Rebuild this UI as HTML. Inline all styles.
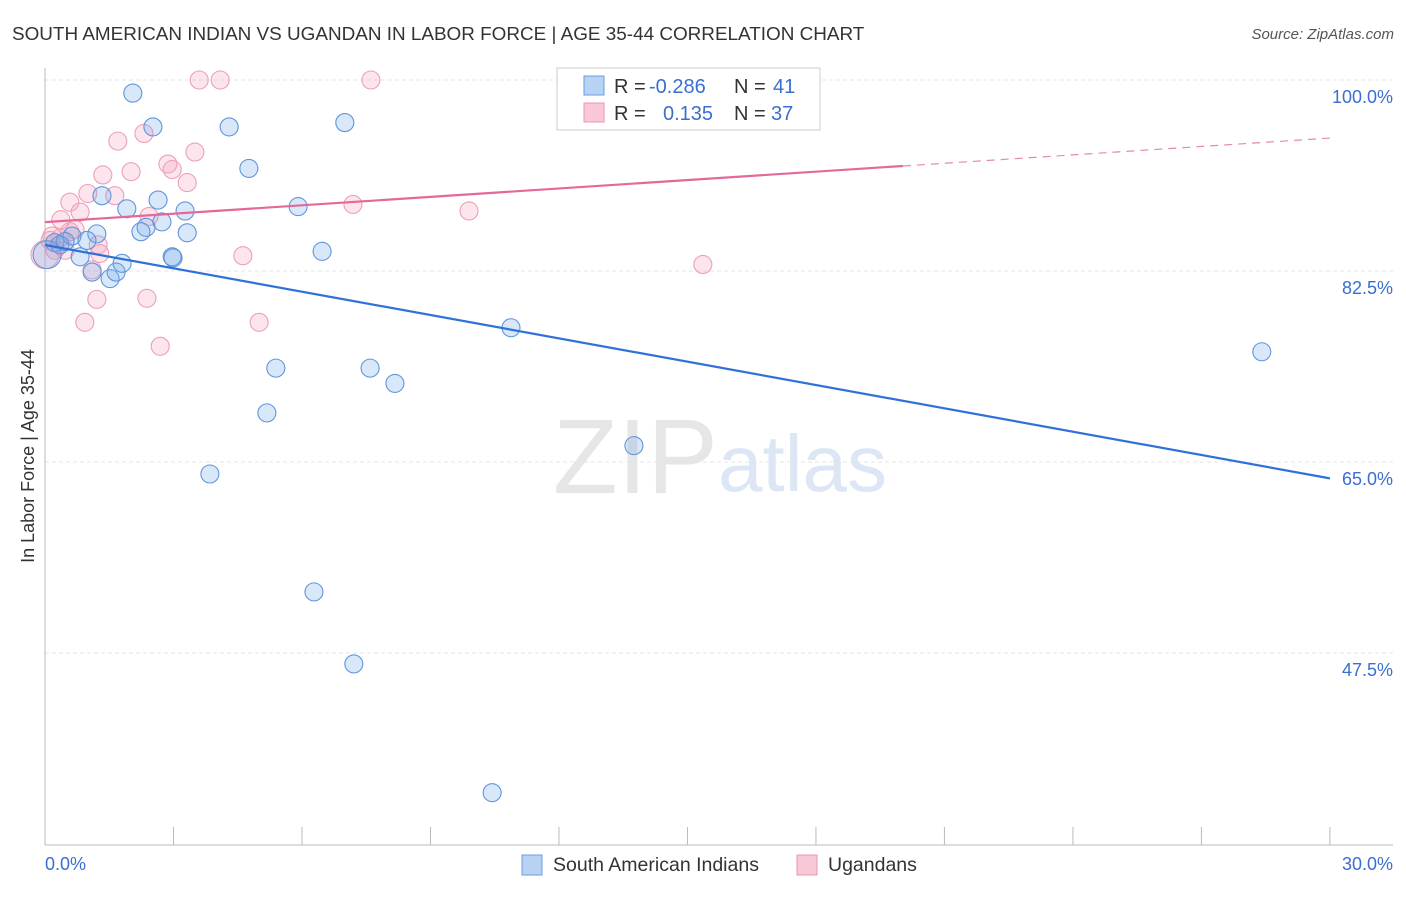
<!DOCTYPE html>
<html><head><meta charset="utf-8"><style>
body{margin:0;background:#fff;font-family:"Liberation Sans",sans-serif}
svg text{font-family:"Liberation Sans",sans-serif}
</style></head><body>
<svg width="1406" height="892">
<text x="12" y="40" font-size="18.9" fill="#333">SOUTH AMERICAN INDIAN VS UGANDAN IN LABOR FORCE | AGE 35-44 CORRELATION CHART</text>
<text x="1394" y="39" font-size="15" fill="#555" font-style="italic" text-anchor="end">Source: ZipAtlas.com</text>
<g><text x="553" y="493" font-size="106" font-family="Liberation Serif" fill="#e6e6e6">ZIP</text><text x="718" y="491" font-size="80" fill="#dce6f4">atlas</text></g>
<g id="grid"></g>
<line x1="45" y1="68" x2="45" y2="845" stroke="#bbb"/>
<line x1="45" y1="845" x2="1393" y2="845" stroke="#bbb"/>
<g id="ticks"></g>
<text x="45" y="870" font-size="18" fill="#3a6fd0">0.0%</text>
<text x="1393" y="870" font-size="18" fill="#3a6fd0" text-anchor="end">30.0%</text>
<text transform="translate(34,456) rotate(-90)" font-size="18" fill="#333" text-anchor="middle">In Labor Force | Age 35-44</text>
<g id="marks"></g>
<g>
<rect x="557" y="68" width="263" height="62" fill="#fff" stroke="#ccc"/>
<rect x="584" y="76" width="20" height="19" fill="#b8d2f4" stroke="#6a9be0"/>
<rect x="584" y="103" width="20" height="19" fill="#f9c8d6" stroke="#ec94b0"/>
<text y="93" font-size="20" fill="#333"><tspan x="614">R =</tspan><tspan x="649" fill="#3a6fd0">-0.286</tspan><tspan x="734">N =</tspan><tspan x="773" fill="#3a6fd0">41</tspan></text>
<text y="120" font-size="20" fill="#333"><tspan x="614">R =</tspan><tspan x="663" fill="#3a6fd0">0.135</tspan><tspan x="734">N =</tspan><tspan x="771" fill="#3a6fd0">37</tspan></text>
</g>
<g>
<rect x="522" y="855" width="20" height="20" fill="#b8d2f4" stroke="#6a9be0"/>
<text x="553" y="871" font-size="19.5" fill="#333">South American Indians</text>
<rect x="797" y="855" width="20" height="20" fill="#f9c8d6" stroke="#ec94b0"/>
<text x="828" y="871" font-size="19.5" fill="#333">Ugandans</text>
</g>
</svg>
<script>
const yTicks=[100,82.5,65,47.5];
const yTickLabels=["100.0%","82.5%","65.0%","47.5%"];
const blueX=[2.05,2.52,4.30,7.00,4.76,2.64,1.33,1.91,3.27,5.91,2.73,2.36,2.24,3.32,1.21,0.98,0.63,0.23,0.35,0.82,1.10,1.52,1.66,1.80,2.99,2.97,6.47,10.88,5.39,7.59,8.17,5.18,13.75,3.85,6.28,7.21,10.44,17.30,28.41,0.05,0.47];
const blueY=[98.8,95.7,95.7,96.1,91.9,89.0,89.4,88.2,88.0,88.4,87.0,86.5,86.1,86.0,85.9,85.3,85.7,85.1,84.9,83.8,82.4,81.8,82.4,83.2,83.7,83.8,84.3,77.3,73.6,73.6,72.2,69.5,66.5,63.9,53.1,46.5,34.7,99.7,75.1,84.0,85.2];
const pinkX=[3.60,4.09,7.61,1.70,2.31,1.35,2.01,2.87,2.97,3.32,3.50,0.58,0.82,1.00,1.63,2.43,0.37,7.19,9.90,4.62,15.36,1.24,1.10,1.21,2.38,0.93,2.69,5.00,0.12,0.23,0.58,0.70,0.35,0.0,1.28,0.47,0.16];
const pinkY=[100,100,100,94.4,95.1,91.3,91.6,92.3,91.8,90.6,93.4,88.8,87.9,89.6,89.4,87.5,87.2,88.6,88.0,83.9,83.1,84.9,82.6,79.9,80.0,77.8,75.6,77.8,85.3,84.4,86.1,86.3,85.5,84.0,84.1,84.4,85.7];
const blueTrend=[84.88,63.5];
const pinkTrend=[86.98,94.68];
const pinkSolidEnd=20.03;
const NS="http://www.w3.org/2000/svg";
const xs=v=>45+v*42.83, ys=v=>80+(100-v)*10.914;
function mk(t,a,p){const e=document.createElementNS(NS,t);for(const k in a)e.setAttribute(k,a[k]);document.getElementById(p).appendChild(e);return e;}
yTicks.forEach((t,i)=>{
 const l=mk('line',{x1:45,x2:1393,y1:ys(t),y2:ys(t),stroke:'#e4e4e4','stroke-dasharray':'4,3'},'grid');
 
 
 const tx=mk('text',{x:1393,y:ys(t)+23,'font-size':18,fill:'#3a6fd0','text-anchor':'end'},'grid');
 tx.textContent=yTickLabels[i];
 
 
});
for(let i=1;i<=10;i++){
 const l=mk('line',{x1:xs(i*3),x2:xs(i*3),y1:827,y2:845,stroke:'#bbb'},'ticks');
 
 
}
function dots(X,Y,fill,stroke,name){
 X.forEach((x,i)=>{
  const big=(x<0.1);
  const c=mk('circle',{cx:xs(x),cy:ys(Y[i]),r:big?14:9,fill:fill,stroke:stroke,'stroke-width':1.1},'marks');
  
  
 });
}
dots(pinkX,pinkY,'rgba(244,160,188,0.28)','#eca0b8','ugandan-point');
dots(blueX,blueY,'rgba(110,165,232,0.26)','#6095dc','south-american-indian-point');
const bl=mk('line',{x1:xs(0),y1:ys(blueTrend[0]),x2:xs(30),y2:ys(blueTrend[1]),stroke:'#2e72d8','stroke-width':2.2},'marks');


const pv=x=>pinkTrend[0]+(pinkTrend[1]-pinkTrend[0])*x/30;
const pl=mk('line',{x1:xs(0),y1:ys(pv(0)),x2:xs(pinkSolidEnd),y2:ys(pv(pinkSolidEnd)),stroke:'#e4689a','stroke-width':2.2},'marks');


const pd=mk('line',{x1:xs(pinkSolidEnd),y1:ys(pv(pinkSolidEnd)),x2:xs(30),y2:ys(pv(30)),stroke:'#e48aaa','stroke-width':1.2,'stroke-dasharray':'8,6'},'marks');


</script>
</body></html>
